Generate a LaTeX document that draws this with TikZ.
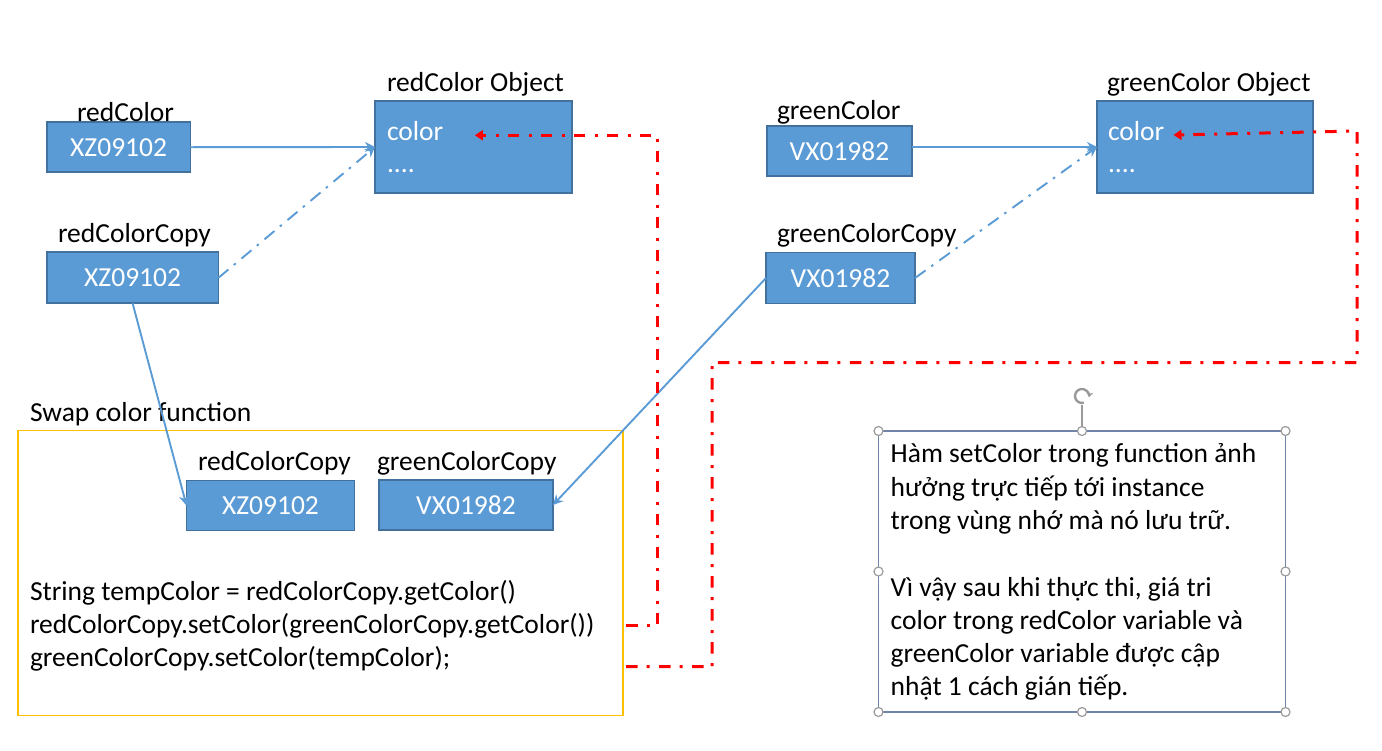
\documentclass[tikz,border=0pt]{standalone}
\usepackage{fontspec}
\setmainfont{Carlito}
\usetikzlibrary{arrows.meta}
\definecolor{boxfill}{HTML}{5B9BD5}
\definecolor{boxline}{HTML}{41719C}
\definecolor{linkblue}{HTML}{5B9BD5}
\definecolor{fnorange}{HTML}{FFC000}
\definecolor{tbline}{HTML}{6F84A8}
\definecolor{handlegray}{HTML}{9A9A9A}
\begin{document}
\begin{tikzpicture}[x=1pt,y=-1pt,
  every node/.style={font=\fontsize{27.5}{33.3}\selectfont, inner sep=0pt, outer sep=0pt},
  varbox/.style={draw=boxline, fill=boxfill, line width=1.8pt, text=white, minimum width=#1, minimum height=50pt},
  objbox/.style={draw=boxline, fill=boxfill, line width=1.8pt, minimum width=#1, minimum height=92.6pt},
  lbl/.style={anchor=base west},
  wlbl/.style={anchor=base west, text=white},
  solidlink/.style={draw=linkblue, line width=1.9pt, -{Stealth[length=10pt,width=10pt]}},
  dashlink/.style={draw=linkblue, line width=1.9pt, dash pattern=on 13pt off 7pt on 2.5pt off 7.5pt, -{Stealth[length=10pt,width=10pt]}},
  reddash/.style={draw=red, line width=3pt, dash pattern=on 11.5pt off 9pt on 3pt off 9.5pt, -{Triangle[length=8pt,width=10pt]}},
  handle/.style={draw=handlegray, fill=white, line width=1.2pt}
]
\useasboundingbox (0,0) rectangle (1382,750);

% red side
\node[varbox=143.6pt] (rc) at (118.6,147.2) {XZ09102};
\node[lbl] (rcl) at (77,121) {redColor};
\node[varbox=171.7pt, minimum height=51pt] (rcc) at (132.6,277.8) {XZ09102};
\node[lbl] (rccl) at (58,242) {redColorCopy};
\node[objbox=197pt] (ro) at (473.5,147) {};
\node[lbl] (rol) at (387,91.7) {redColor Object};
\node[wlbl] (rocol) at (387,140) {color};
\node[wlbl] (rodots) at (387,172.7) {....};

% green side
\node[varbox=145pt] (gc) at (839.5,151) {VX01982};
\node[lbl] (gcl) at (777,119.3) {greenColor};
\node[varbox=149pt, minimum height=51pt] (gcc) at (840.5,278) {VX01982};
\node[lbl] (gccl) at (777,242.7) {greenColorCopy};
\node[objbox=216pt] (go) at (1205,147) {};
\node[lbl] (gol) at (1107,91.7) {greenColor Object};
\node[wlbl] (gocol) at (1108,140) {color};
\node[wlbl] (godots) at (1108,172.7) {....};

% function
\node[draw=fnorange, line width=1.8pt, minimum width=605pt, minimum height=285pt] (fn) at (320.5,573) {};
\node[lbl] (fnl) at (30,421.7) {Swap color function};
\node[lbl] (frcl) at (198,470) {redColorCopy};
\node[lbl] (fgcl) at (377,470) {greenColorCopy};
\node[varbox=168pt] (frc) at (270.5,505.5) {XZ09102};
\node[varbox=174pt] (fgc) at (466,505) {VX01982};
\node[lbl] (code1) at (30,600) {String tempColor = redColorCopy.getColor()};
\node[lbl] (code2) at (30,633) {redColorCopy.setColor(greenColorCopy.getColor())};
\node[lbl] (code3) at (30,666) {greenColorCopy.setColor(tempColor);};

% text box
\node[draw=tbline, line width=1.3pt, minimum width=407pt, minimum height=281pt] (tb) at (1082,571.5) {};
\node[lbl] (t1) at (890.7,462.7) {Hàm setColor trong function ảnh};
\node[lbl] (t2) at (890.7,496) {hưởng trực tiếp tới instance};
\node[lbl] (t3) at (890.7,529) {trong vùng nhớ mà nó lưu trữ.};
\node[lbl] (t4) at (890.7,596) {Vì vậy sau khi thực thi, giá tri};
\node[lbl] (t5) at (890.7,629) {color trong redColor variable và};
\node[lbl] (t6) at (890.7,662.5) {greenColor variable được cập};
\node[lbl] (t7) at (890.7,695.5) {nhật 1 cách gián tiếp.};
\coordinate (rotc) at (1082,396);
\draw[handlegray, line width=1.2pt] (tb.north) -- (1082,405);
\draw[handlegray, line width=2.4pt, -{Stealth[length=5pt,width=7pt]}] (rotc) ++(75:7) arc[start angle=75, end angle=370, radius=7];
\foreach \p in {north west, north, north east, east, south east, south, south west, west}
  \draw[handle] (tb.\p) circle (4.5);

% blue connectors
\draw[solidlink] (rc.east) -- (ro.west);
\draw[dashlink] (rcc.east) -- (ro.west);
\draw[solidlink] (rcc.south) -- (frc.west);
\draw[solidlink] (gc.east |- go.west) -- (go.west);
\draw[dashlink] (gcc.east) -- (go.west);
\draw[solidlink] (gcc.west) -- (fgc.east);

% red connectors
\coordinate (a1) at (626,625.5);
\coordinate (a2) at (657.5,625.5);
\coordinate (a3) at (657.5,135.3);
\coordinate (a4) at (474.8,135.3);
\draw[reddash] (a1) -- (a2) -- (a3) -- (a4);
\coordinate (b1) at (626,666.7);
\coordinate (b2) at (712,666.7);
\coordinate (b3) at (712,362.5);
\coordinate (b4) at (1357,362.5);
\coordinate (b5) at (1357,131);
\coordinate (b6) at (1173.5,135);
\draw[reddash] (b1) -- (b2) -- (b3) -- (b4) -- (b5) -- (b6);
\end{tikzpicture}
\end{document}
